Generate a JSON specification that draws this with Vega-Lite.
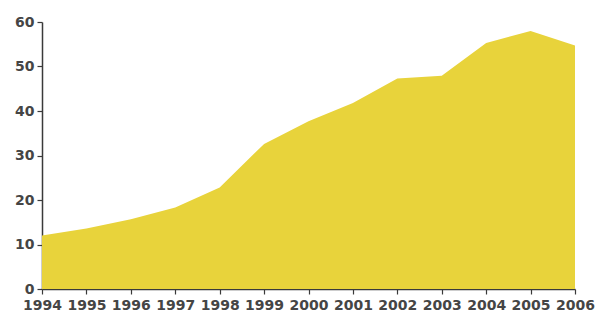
{
  "$schema": "https://vega.github.io/schema/vega-lite/v6.json",
  "width": 533,
  "height": 267,
  "autosize": {"type": "none"},
  "padding": {"left": 42, "top": 22, "right": 23, "bottom": 33},
  "background": "white",
  "config": {
    "view": {"stroke": null},
    "axis": {
      "labelFont": "DejaVu Sans",
      "labelFontSize": 14,
      "labelFontWeight": "bold",
      "labelColor": "#454545",
      "domainColor": "#3a3a3a",
      "domainWidth": 1.5,
      "tickColor": "#3a3a3a",
      "tickWidth": 1.2,
      "tickSize": 5,
      "grid": false,
      "title": null
    }
  },
  "data": {
    "values": [
      {"year": 1994, "value": 12.0},
      {"year": 1995, "value": 13.6},
      {"year": 1996, "value": 15.7},
      {"year": 1997, "value": 18.3},
      {"year": 1998, "value": 22.8},
      {"year": 1999, "value": 32.6},
      {"year": 2000, "value": 37.7},
      {"year": 2001, "value": 41.8},
      {"year": 2002, "value": 47.3},
      {"year": 2003, "value": 47.9},
      {"year": 2004, "value": 55.3},
      {"year": 2005, "value": 58.0},
      {"year": 2006, "value": 54.7}
    ]
  },
  "mark": {"type": "area", "color": "#E8D33B", "interpolate": "linear"},
  "encoding": {
    "x": {
      "field": "year",
      "type": "quantitative",
      "scale": {"domain": [1994, 2006], "nice": false, "zero": false},
      "axis": {"values": [1994, 1995, 1996, 1997, 1998, 1999, 2000, 2001, 2002, 2003, 2004, 2005, 2006], "format": "d", "labelPadding": 4, "labelOverlap": false, "labelFlush": false}
    },
    "y": {
      "field": "value",
      "type": "quantitative",
      "scale": {"domain": [0, 60], "nice": false},
      "axis": {"values": [0, 10, 20, 30, 40, 50, 60], "labelPadding": 3}
    }
  }
}
